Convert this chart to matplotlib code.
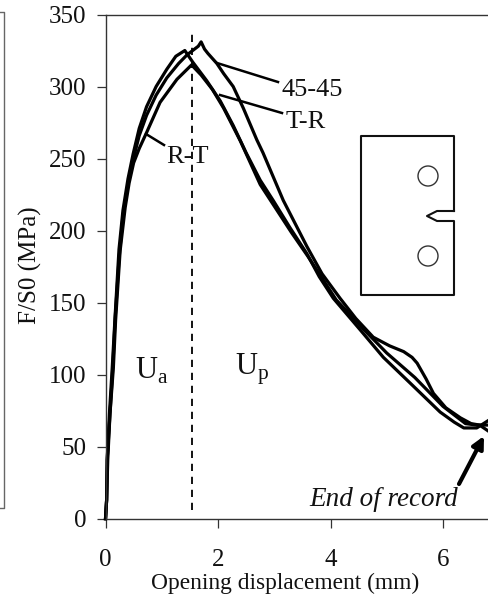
#!/usr/bin/env python3

"""Force vs opening displacement for the three specimen orientations."""

import matplotlib
matplotlib.use('Agg')
import matplotlib.pyplot as plt
from matplotlib.lines import Line2D
from matplotlib.patches import Circle

plt.rcParams['font.family'] = ['Liberation Serif', 'DejaVu Serif']
plt.rcParams['mathtext.fontset'] = 'custom'
plt.rcParams['mathtext.rm'] = 'Liberation Serif'

# Curves
x_45 = [0, 0.02, 0.03, 0.08, 0.13, 0.17, 0.24, 0.31, 0.4, 0.49, 0.6, 0.73, 0.9, 1.09, 1.3, 1.45, 1.55, 1.65, 1.7,
        1.76, 1.82, 1.98, 2.1, 2.27, 2.45, 2.69, 2.8, 3.16, 3.58, 3.85, 4.17, 4.45, 4.76, 5.05, 5.3, 5.45, 5.54,
        5.7, 5.83, 6.05, 6.31, 6.5, 6.65, 6.8]
y_45 = [0, 13, 41, 73, 105, 138, 180, 210, 232, 249, 266, 280, 294, 306, 316, 322, 325, 328, 331,
        326, 323, 316, 309, 300, 285, 263, 254, 221, 189, 170, 153, 139, 126, 120, 116, 112, 108,
        97, 87, 77, 70, 66, 65, 61]

x_tr = [0, 0.02, 0.03, 0.07, 0.12, 0.17, 0.24, 0.31, 0.4, 0.49, 0.6, 0.73, 0.9, 1.09, 1.25, 1.41, 1.55, 1.8, 2.04,
        2.27, 2.5, 2.75, 2.98, 3.28, 3.58, 3.8, 4.05, 4.53, 4.94, 5.42, 5.95, 6.2, 6.37, 6.6, 6.8]
y_tr = [0, 13, 41, 73, 105, 140, 187, 214, 236, 253, 271, 286, 300, 312, 321, 325, 317, 304, 290,
        273, 254, 235, 221, 202, 184, 168, 153, 131, 112, 94, 74, 67, 63, 63, 68]

x_rt = [0, 0.02, 0.04, 0.08, 0.14, 0.18, 0.26, 0.35, 0.42, 0.5, 0.6, 0.73, 0.97, 1.27, 1.53, 1.7, 1.9, 2.1, 2.4,
        2.75, 3.0, 3.3, 3.6, 4.1, 4.6, 5.0, 5.5, 6.0, 6.4, 6.6, 6.8]
y_rt = [0, 13, 41, 73, 105, 138, 186, 216, 233, 247, 257, 268, 289, 305, 315, 308, 298, 285, 262,
        232, 217, 199, 182, 152, 131, 115, 98, 78, 66, 65, 65]

x_ticks = [0, 2, 4, 6]
y_ticks = [0, 50, 100, 150, 200, 250, 300, 350]
x_peak = 1.53

fig = plt.figure(figsize=(4.88, 5.98), dpi=100)
ax = fig.add_axes([105.5 / 488, 1 - 518.7 / 598, (488 - 105.5) / 488, 504.2 / 598])

for xs, ys in [(x_45, y_45), (x_tr, y_tr), (x_rt, y_rt)]:
    ax.plot(xs, ys, color='black', lw=2.3, clip_on=False)

ax.plot([x_peak, x_peak], [6, 339], color='black', lw=1.3, dashes=(4, 3.2))

ax.set_xlim(0, 6.8)
ax.set_ylim(0, 350)
ax.set_xticks(x_ticks)
ax.set_yticks(y_ticks)
ax.tick_params(axis='both', length=6.5, width=0.9, color='#333333', labelsize=18, labelcolor='#111111')
ax.tick_params(axis='x', pad=15)
ax.tick_params(axis='y', pad=7)
ax.spines['right'].set_visible(False)
for side in ['left', 'top', 'bottom']:
    ax.spines[side].set_color('#333333')
    ax.spines[side].set_linewidth(1.0)

# Overlay in picture pixels for labels and the specimen sketch
ov = fig.add_axes([0, 0, 1, 1])
ov.set_xlim(0, 488)
ov.set_ylim(598, 0)
ov.axis('off')
ov.patch.set_alpha(0)

ov.text(285, 583, 'Opening displacement (mm)', fontsize=16.8, ha='center', va='center', color='#111111')
ov.text(30, 265, 'F/S0 (MPa)', fontsize=18, rotation=90, ha='center', va='center', color='#111111')

for (x0, y0, x1, y1) in [(217, 63, 278, 82), (220, 95, 282, 113), (146, 134, 164, 145)]:
    ov.plot([x0, x1], [y0, y1], color='black', lw=1.8)
ov.text(282, 90, '45-45', fontsize=19, va='center', color='#111111')
ov.text(286, 122, 'T-R', fontsize=19, va='center', color='#111111')
ov.text(166, 157, 'R-T', fontsize=19, va='center', color='#111111')
ov.text(135, 371, r'U$_{\mathrm{a}}$', fontsize=22, va='center', color='#111111')
ov.text(235, 369, r'U$_{\mathrm{p}}$', fontsize=22, va='center', color='#111111')
ov.text(384, 500, 'End of record', fontsize=19.5, style='italic', ha='center', va='center', color='#111111')
ov.annotate('', xy=(484, 436), xytext=(459, 484),
            arrowprops=dict(arrowstyle='-|>,head_width=0.35,head_length=0.7', lw=3, color='black', shrinkA=0, shrinkB=0))

# Specimen sketch
ov.plot([454, 454, 361, 361, 454, 454, 437, 427, 437, 454],
        [211, 136, 136, 295, 295, 221, 221, 216, 211, 211], color='#111111', lw=1.5)
for cy in [176, 256]:
    ov.add_patch(Circle((428, cy), 10, fc='none', ec='#333333', lw=1.0))

# Grey edge of the neighbouring panel
fig.add_artist(Line2D([0, 4 / 488, 4 / 488, 0], [1 - 12 / 598, 1 - 12 / 598, 1 - 508 / 598, 1 - 508 / 598],
                      color='#666666', lw=1.0))

fig.savefig('out.png', dpi=100)
